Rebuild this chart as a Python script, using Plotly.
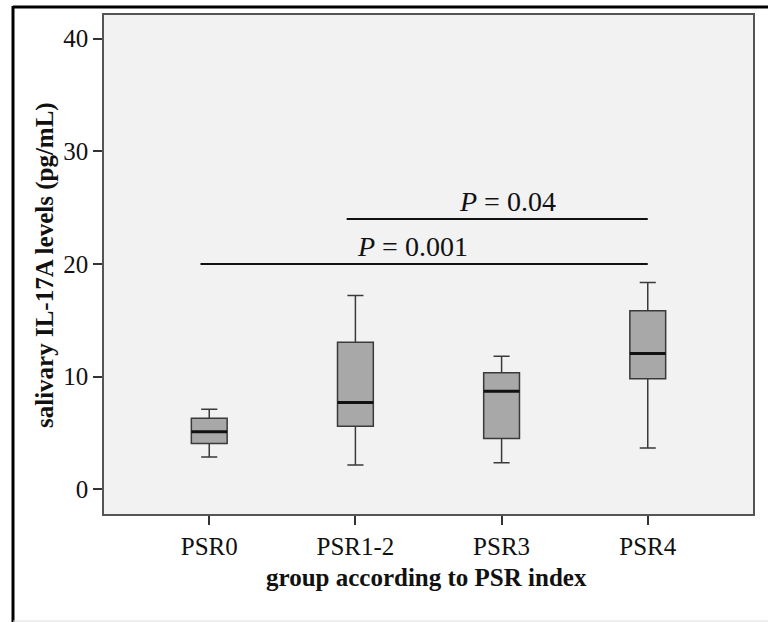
import plotly.graph_objects as go

categories = ["PSR0", "PSR1-2", "PSR3", "PSR4"]
lower_whisker = [2.85, 2.15, 2.35, 3.65]
q1 = [4.05, 5.6, 4.5, 9.8]
median = [5.1, 7.7, 8.7, 12.05]
q3 = [6.3, 13.05, 10.35, 15.85]
upper_whisker = [7.1, 17.2, 11.8, 18.35]

# significance bars: (start group index, end group index, y level, label)
sig_start = [0, 1]
sig_end = [3, 3]
sig_y = [20.0, 24.0]
sig_label = ["<i>P</i> = 0.001", "<i>P</i> = 0.04"]
sig_label_x = [1.39, 2.04]

y_ticks = [0, 10, 20, 30, 40]

FONT = "Liberation Serif"
BOXW = 0.245
xpos = list(range(len(categories)))

fig = go.Figure()
fig.add_trace(go.Box(
    x=xpos, q1=q1, median=median, q3=q3,
    lowerfence=lower_whisker, upperfence=upper_whisker,
    width=BOXW, whiskerwidth=0.45,
    fillcolor="#a8a8a8", line=dict(color="#3a3a3a", width=1.5),
    boxpoints=False, hoverinfo="skip", showlegend=False,
))

# thicker median lines
mx, my = [], []
for i, m in zip(xpos, median):
    mx += [i - BOXW / 2, i + BOXW / 2, None]
    my += [m, m, None]
fig.add_trace(go.Scatter(x=mx, y=my, mode="lines",
                         line=dict(color="#111111", width=3),
                         showlegend=False, hoverinfo="skip"))

# significance lines
sx, sy = [], []
for s, e, yv in zip(sig_start, sig_end, sig_y):
    sx += [s - 0.06, e, None]
    sy += [yv, yv, None]
fig.add_trace(go.Scatter(x=sx, y=sy, mode="lines",
                         line=dict(color="#111111", width=2),
                         showlegend=False, hoverinfo="skip"))

for lx, yv, lab in zip(sig_label_x, sig_y, sig_label):
    fig.add_annotation(x=lx, y=yv, text=lab, showarrow=False,
                       xanchor="center", yanchor="bottom", yshift=0,
                       font=dict(family=FONT, size=28, color="#111111"))

# axis titles
fig.add_annotation(xref="paper", yref="paper", x=(45 - 104) / 649, y=(514 - 265) / 499,
                   xanchor="center", yanchor="middle",
                   text="<b>salivary IL-17A levels (pg/mL)</b>", textangle=-90,
                   showarrow=False, font=dict(family=FONT, size=25, color="#111111"))
fig.add_annotation(xref="paper", yref="paper", x=(426 - 104) / 649, y=(514 - 577) / 499,
                   xanchor="center", yanchor="middle",
                   text="<b>group according to PSR index</b>",
                   showarrow=False, font=dict(family=FONT, size=25, color="#111111"))

# outer frame lines
fig.add_shape(type="line", xref="paper", yref="paper",
              x0=(13 - 104) / 649, x1=(768 - 104) / 649, y0=(514 - 7) / 499, y1=(514 - 7) / 499,
              line=dict(color="black", width=3))
fig.add_shape(type="line", xref="paper", yref="paper",
              x0=(13 - 104) / 649, x1=(13 - 104) / 649, y0=(514 - 6) / 499, y1=(514 - 622) / 499,
              line=dict(color="black", width=3))
fig.add_shape(type="line", xref="paper", yref="paper",
              x0=(13 - 104) / 649, x1=(768 - 104) / 649, y0=(514 - 621) / 499, y1=(514 - 621) / 499,
              line=dict(color="#dddddd", width=1))

fig.update_layout(
    width=768, height=622,
    margin=dict(l=104, r=15, t=15, b=108),
    paper_bgcolor="white", plot_bgcolor="#f2f2f2",
    font=dict(family=FONT, size=25, color="#111111"),
    showlegend=False,
    xaxis=dict(range=[-0.72, 3.72], tickvals=xpos, ticktext=categories,
               ticks="outside", ticklen=9, tickwidth=1.5, tickcolor="#333333",
               showgrid=False, zeroline=False, showline=True, mirror=True,
               linecolor="#555555", linewidth=1.5,
               tickfont=dict(family=FONT, size=25, color="#111111")),
    yaxis=dict(range=[-2.2, 42.1], tickvals=y_ticks,
               ticks="outside", ticklen=9, tickwidth=1.5, tickcolor="#333333",
               showgrid=False, zeroline=False, showline=True, mirror=True,
               linecolor="#555555", linewidth=1.5,
               tickfont=dict(family=FONT, size=25, color="#111111")),
)

fig.write_html("out.html")
